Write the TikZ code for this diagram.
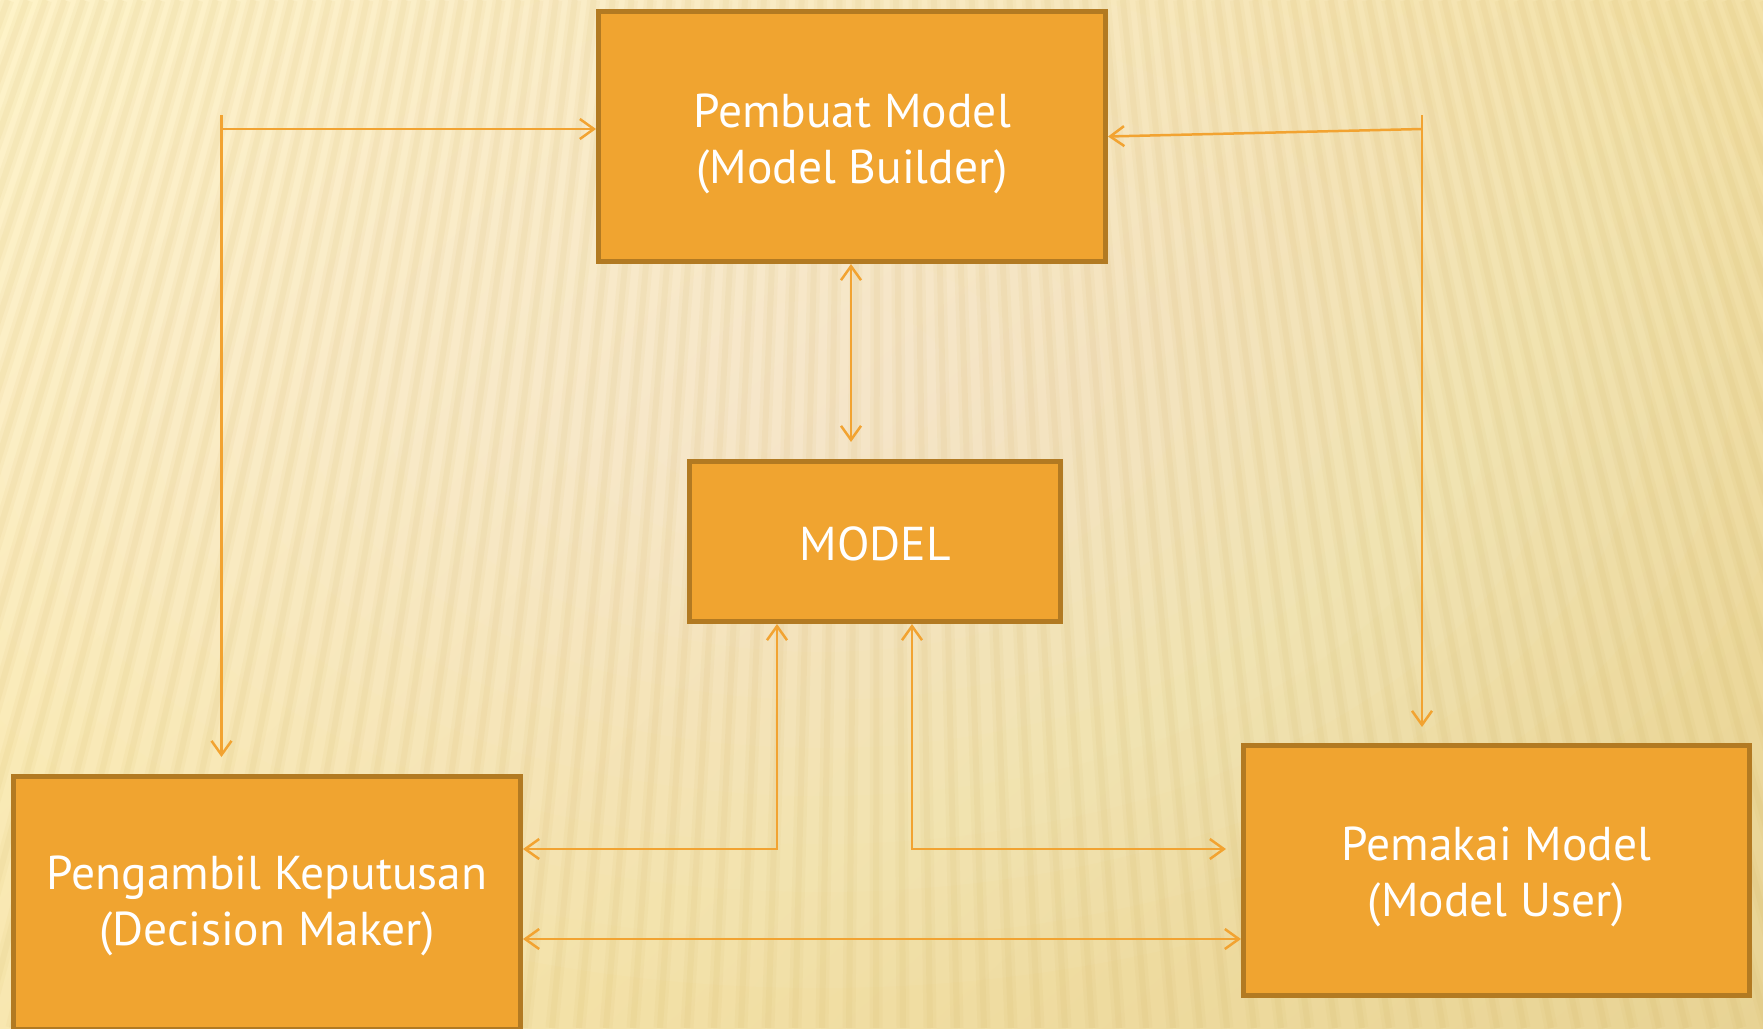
\documentclass[tikz,border=0pt]{standalone}
\usepackage{fontspec}
\setmainfont{PT Sans}
\usetikzlibrary{arrows.meta,shadings}
\definecolor{boxfill}{HTML}{F0A430}
\definecolor{boxline}{HTML}{B27A22}
\definecolor{connc}{HTML}{F2A331}
\definecolor{bgUL}{HTML}{FEF3C8}
\definecolor{bgUR}{HTML}{F3E1A8}
\definecolor{bgLL}{HTML}{F8E7B0}
\definecolor{bgLR}{HTML}{E8D394}
\definecolor{stripec}{HTML}{C9A64A}
\tikzset{
  boxst/.style={draw=boxline, line width=5pt, fill=boxfill, inner sep=0pt},
  txtst/.style={text=white, font=\fontsize{47.5}{56}\selectfont, align=center, inner sep=0pt},
  conn/.style={draw=connc, line width=2.5pt,
    arrows={Straight Barb[length=14pt,width=20pt,line width=2.5pt]-Straight Barb[length=14pt,width=20pt,line width=2.5pt]}},
  conn>/.style={draw=connc, line width=2.5pt,
    arrows={-Straight Barb[length=14pt,width=20pt,line width=2.5pt]}},
}
\begin{document}
\begin{tikzpicture}[x=1pt,y=-1pt]
\useasboundingbox (0,0) rectangle (1763,1028);
\clip (0,0) rectangle (1763,1028);
% background
\shade[upper left=bgUL, upper right=bgUR, lower left=bgLL, lower right=bgLR] (0,0) rectangle (1763,1028);
\foreach \r in {100,160,...,760} {
  \fill[white, opacity=0.035] (820,380) ellipse ({\r*1.3} and {\r*0.8});
}
\foreach \i in {0,...,95} {
  \pgfmathsetmacro\xb{\i*27-420}
  \pgfmathsetmacro\xt{\xb+(880-\xb)*0.3}
  \draw[stripec, line width=13pt, opacity=0.06] (\xb,1028) -- (\xt,0);
  \draw[stripec, line width=6pt, opacity=0.07] (\xb,1028) -- (\xt,0);
}
% boxes
\node[boxst, minimum width=507pt, minimum height=250pt] (TB) at (852,136.5) {};
\node[txtst, yshift=-7pt] (TBt) at (TB.center) {Pembuat Model\\(Model Builder)};
\node[boxst, minimum width=371pt, minimum height=160pt] (M) at (875,541.5) {};
\node[txtst, yshift=-2pt] (Mt) at (M.center) {MODEL};
\node[boxst, minimum width=507pt, minimum height=253pt] (LB) at (267,903) {};
\node[txtst, yshift=-3pt] (LBt) at (LB.center) {Pengambil Keputusan\\(Decision Maker)};
\node[boxst, minimum width=506pt, minimum height=250pt] (RB) at (1496.5,870.5) {};
\node[txtst, yshift=-6pt] (RBt) at (RB.center) {Pemakai Model\\(Model User)};
% connector points
\coordinate (L1) at (221.5,115);
\coordinate (L2) at (221.5,129);
\coordinate (L3) at (221.5,757);
\coordinate (R1) at (1422,115);
\coordinate (R2) at (1422,129);
\coordinate (R3) at (1422,727);
\coordinate (MB) at (851,442);
\coordinate (ML) at (777,849);
\coordinate (MR) at (912,849);
\coordinate (RE) at (1226,849);
\coordinate (BT) at (0,939);
% connectors
\draw[conn>] (L1) -- (L3);
\draw[conn>] (L2) -- (TB.west |- L2);
\draw[conn>] (R1) -- (R3);
\draw[conn>] (R2) -- (TB.east);
\draw[conn] (TB.south -| MB) -- (MB);
\draw[conn] (M.south -| ML) |- (LB.east |- ML);
\draw[conn] (M.south -| MR) |- (RE);
\draw[conn] (LB.east |- BT) -- (RB.west |- BT);
\end{tikzpicture}
\end{document}
